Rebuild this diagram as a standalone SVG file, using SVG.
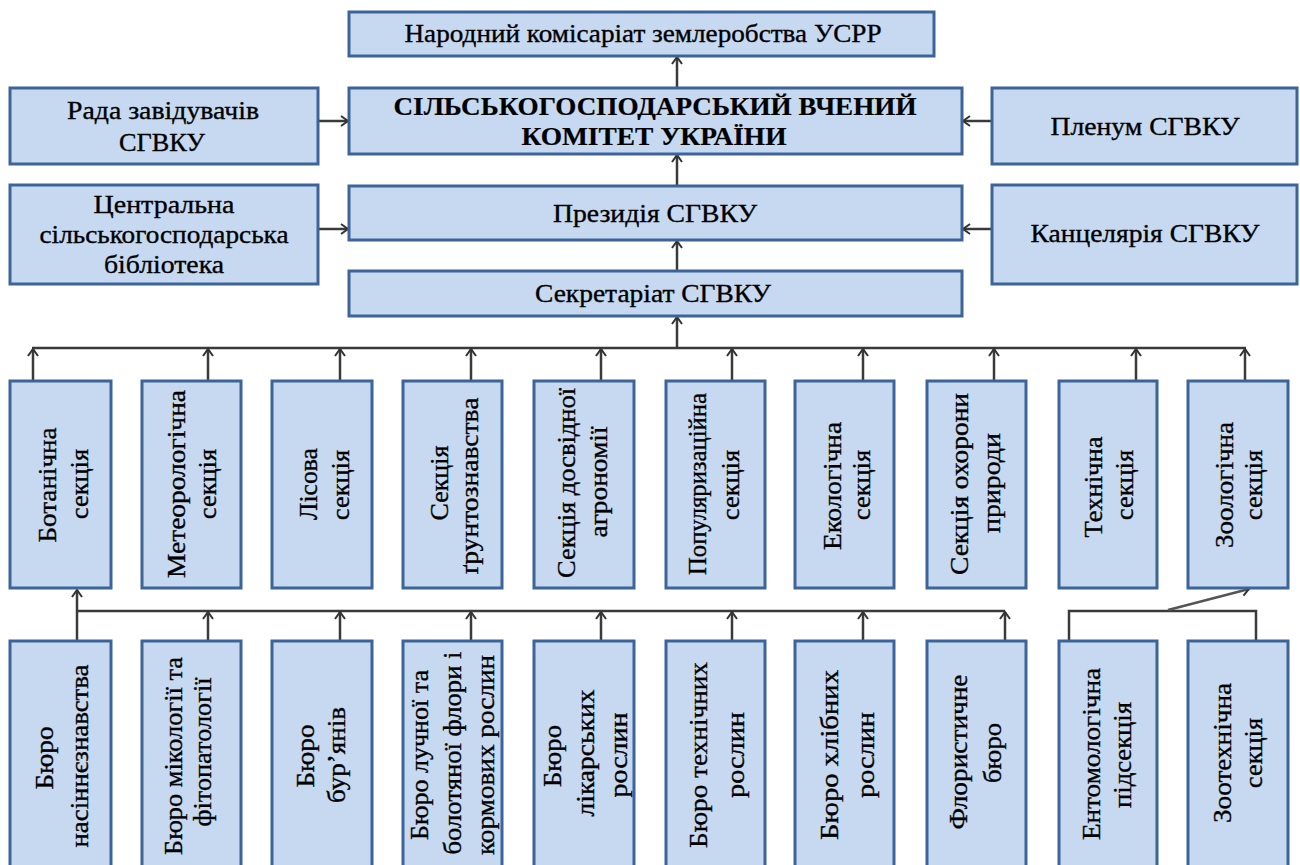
<svg xmlns="http://www.w3.org/2000/svg" width="1300" height="865" viewBox="0 0 1300 865">
<style>
.box{fill:#c6d9f1;stroke:#3d6499;stroke-width:3}
.t{font-family:"Liberation Serif","Times New Roman","DejaVu Serif",serif;font-size:26px;fill:#000;stroke:#000;stroke-width:0.35;text-anchor:middle}
.b{font-weight:bold;stroke-width:0.2}
.c{stroke:#3a3a3a;stroke-width:2.5;fill:none}
.a{marker-end:url(#arr)}
.g{stroke:#555}
</style>
<defs>
<marker id="arr" markerUnits="userSpaceOnUse" markerWidth="14" markerHeight="14" viewBox="-8 -7 10 14" refX="0" refY="0" orient="auto">
<path d="M-7,-5 L0,0 L-7,5" fill="none" stroke="#333" stroke-width="2"/>
</marker>
</defs>
<rect width="1300" height="865" fill="#fff"/>

<g id="connectors">
<line class="c a" x1="677" y1="88" x2="677" y2="57"/>
<line class="c a" x1="677" y1="186" x2="677" y2="155"/>
<line class="c a" x1="677" y1="271" x2="677" y2="241"/>
<line class="c a" x1="677" y1="348" x2="677" y2="317"/>
<line class="c a" x1="318" y1="121" x2="348" y2="121"/>
<line class="c a" x1="318" y1="229" x2="348" y2="229"/>
<line class="c a" x1="992" y1="121" x2="963" y2="121"/>
<line class="c a" x1="992" y1="229" x2="963" y2="229"/>
<line class="c" x1="32" y1="348" x2="1246" y2="348"/>
<line class="c a" x1="33" y1="381" x2="33" y2="349"/>
<line class="c a" x1="208" y1="381" x2="208" y2="349"/>
<line class="c a" x1="340" y1="381" x2="340" y2="349"/>
<line class="c a" x1="471" y1="381" x2="471" y2="349"/>
<line class="c a" x1="601" y1="381" x2="601" y2="349"/>
<line class="c a" x1="732" y1="381" x2="732" y2="349"/>
<line class="c a" x1="863" y1="381" x2="863" y2="349"/>
<line class="c a" x1="994" y1="381" x2="994" y2="349"/>
<line class="c a" x1="1136" y1="381" x2="1136" y2="349"/>
<line class="c a" x1="1245" y1="381" x2="1245" y2="349"/>
<line class="c" x1="77" y1="611" x2="1005" y2="611"/>
<line class="c a" x1="77" y1="641" x2="77" y2="590"/>
<line class="c a" x1="208" y1="641" x2="208" y2="612"/>
<line class="c a" x1="340" y1="641" x2="340" y2="612"/>
<line class="c a" x1="471" y1="641" x2="471" y2="612"/>
<line class="c a" x1="601" y1="641" x2="601" y2="612"/>
<line class="c a" x1="732" y1="641" x2="732" y2="612"/>
<line class="c a" x1="863" y1="641" x2="863" y2="612"/>
<line class="c a" x1="1005" y1="641" x2="1005" y2="612"/>
<polyline class="c" points="1069,641 1069,611 1256,611 1256,641"/>
<line class="c a g" x1="1168" y1="610" x2="1249" y2="589"/>
</g>

<g id="n-top"><rect class="box" x="349" y="12" width="585" height="44"/>
<text class="t" x="643" y="42" textLength="477" lengthAdjust="spacingAndGlyphs">Народний комісаріат землеробства УСРР</text></g>

<g id="n-main"><rect class="box" x="349" y="88" width="613" height="66"/>
<text class="t b" x="655" y="115" textLength="523" lengthAdjust="spacingAndGlyphs">СІЛЬСЬКОГОСПОДАРСЬКИЙ ВЧЕНИЙ</text>
<text class="t b" x="654" y="145" textLength="265" lengthAdjust="spacingAndGlyphs">КОМІТЕТ УКРАЇНИ</text></g>

<g id="n-rada"><rect class="box" x="10" y="88" width="308" height="76"/>
<text class="t" x="163" y="119" textLength="192" lengthAdjust="spacingAndGlyphs">Рада завідувачів</text>
<text class="t" x="162" y="151" textLength="86" lengthAdjust="spacingAndGlyphs">СГВКУ</text></g>

<g id="n-plenum"><rect class="box" x="992" y="88" width="305" height="76"/>
<text class="t" x="1145" y="135" textLength="189" lengthAdjust="spacingAndGlyphs">Пленум СГВКУ</text></g>

<g id="n-library"><rect class="box" x="10" y="185" width="308" height="99"/>
<text class="t" x="164" y="213" textLength="141" lengthAdjust="spacingAndGlyphs">Центральна</text>
<text class="t" x="164" y="243" textLength="249" lengthAdjust="spacingAndGlyphs">сільськогосподарська</text>
<text class="t" x="164" y="273" textLength="120" lengthAdjust="spacingAndGlyphs">бібліотека</text></g>

<g id="n-presidium"><rect class="box" x="349" y="186" width="613" height="54"/>
<text class="t" x="655" y="222" textLength="204" lengthAdjust="spacingAndGlyphs">Президія СГВКУ</text></g>

<g id="n-chancellery"><rect class="box" x="992" y="185" width="305" height="99"/>
<text class="t" x="1145" y="242" textLength="229" lengthAdjust="spacingAndGlyphs">Канцелярія СГВКУ</text></g>

<g id="n-secretariat"><rect class="box" x="349" y="271" width="613" height="45"/>
<text class="t" x="653" y="302" textLength="236" lengthAdjust="spacingAndGlyphs">Секретаріат СГВКУ</text></g>

<g id="s1"><rect class="box" x="10" y="381" width="101" height="207"/>
<text class="t" transform="translate(56,485) rotate(-90)" textLength="115" lengthAdjust="spacingAndGlyphs">Ботанічна</text>
<text class="t" transform="translate(88,484) rotate(-90)" textLength="70" lengthAdjust="spacingAndGlyphs">секція</text></g>
<g id="s2"><rect class="box" x="142" y="381" width="99" height="207"/>
<text class="t" transform="translate(185,484) rotate(-90)" textLength="188" lengthAdjust="spacingAndGlyphs">Метеорологічна</text>
<text class="t" transform="translate(216,484) rotate(-90)" textLength="70" lengthAdjust="spacingAndGlyphs">секція</text></g>
<g id="s3"><rect class="box" x="272" y="381" width="100" height="207"/>
<text class="t" transform="translate(317,484) rotate(-90)" textLength="72" lengthAdjust="spacingAndGlyphs">Лісова</text>
<text class="t" transform="translate(349,485) rotate(-90)" textLength="70" lengthAdjust="spacingAndGlyphs">секція</text></g>
<g id="s4"><rect class="box" x="403" y="381" width="99" height="207"/>
<text class="t" transform="translate(448,483) rotate(-90)" textLength="75" lengthAdjust="spacingAndGlyphs">Секція</text>
<text class="t" transform="translate(478,486) rotate(-90)" textLength="177" lengthAdjust="spacingAndGlyphs">ґрунтознавства</text></g>
<g id="s5"><rect class="box" x="534" y="381" width="100" height="207"/>
<text class="t" transform="translate(575,483) rotate(-90)" textLength="190" lengthAdjust="spacingAndGlyphs">Секція досвідної</text>
<text class="t" transform="translate(607,482) rotate(-90)" textLength="111" lengthAdjust="spacingAndGlyphs">агрономії</text></g>
<g id="s6"><rect class="box" x="666" y="381" width="99" height="207"/>
<text class="t" transform="translate(706,484) rotate(-90)" textLength="182" lengthAdjust="spacingAndGlyphs">Популяризаційна</text>
<text class="t" transform="translate(739,485) rotate(-90)" textLength="70" lengthAdjust="spacingAndGlyphs">секція</text></g>
<g id="s7"><rect class="box" x="795" y="381" width="99" height="207"/>
<text class="t" transform="translate(841,486) rotate(-90)" textLength="128" lengthAdjust="spacingAndGlyphs">Екологічна</text>
<text class="t" transform="translate(870,485) rotate(-90)" textLength="70" lengthAdjust="spacingAndGlyphs">секція</text></g>
<g id="s8"><rect class="box" x="927" y="381" width="99" height="207"/>
<text class="t" transform="translate(968,484) rotate(-90)" textLength="182" lengthAdjust="spacingAndGlyphs">Секція охорони</text>
<text class="t" transform="translate(1000,483) rotate(-90)" textLength="100" lengthAdjust="spacingAndGlyphs">природи</text></g>
<g id="s9"><rect class="box" x="1059" y="381" width="98" height="207"/>
<text class="t" transform="translate(1102,487) rotate(-90)" textLength="101" lengthAdjust="spacingAndGlyphs">Технічна</text>
<text class="t" transform="translate(1133,485) rotate(-90)" textLength="70" lengthAdjust="spacingAndGlyphs">секція</text></g>
<g id="s10"><rect class="box" x="1188" y="381" width="100" height="207"/>
<text class="t" transform="translate(1233,485) rotate(-90)" textLength="126" lengthAdjust="spacingAndGlyphs">Зоологічна</text>
<text class="t" transform="translate(1262,485) rotate(-90)" textLength="70" lengthAdjust="spacingAndGlyphs">секція</text></g>

<g id="b1"><rect class="box" x="10" y="641" width="101" height="230"/>
<text class="t" transform="translate(53,758) rotate(-90)" textLength="63" lengthAdjust="spacingAndGlyphs">Бюро</text>
<text class="t" transform="translate(88,756) rotate(-90)" textLength="183" lengthAdjust="spacingAndGlyphs">насіннєзнавства</text></g>
<g id="b2"><rect class="box" x="142" y="641" width="99" height="230"/>
<text class="t" transform="translate(182,756) rotate(-90)" textLength="198" lengthAdjust="spacingAndGlyphs">Бюро мікології та</text>
<text class="t" transform="translate(211,752) rotate(-90)" textLength="149" lengthAdjust="spacingAndGlyphs">фітопатології</text></g>
<g id="b3"><rect class="box" x="272" y="641" width="100" height="230"/>
<text class="t" transform="translate(314,756) rotate(-90)" textLength="63" lengthAdjust="spacingAndGlyphs">Бюро</text>
<text class="t" transform="translate(345,755) rotate(-90)" textLength="96" lengthAdjust="spacingAndGlyphs">бур’янів</text></g>
<g id="b4"><rect class="box" x="403" y="641" width="99" height="230"/>
<text class="t" transform="translate(428,755) rotate(-90)" textLength="170" lengthAdjust="spacingAndGlyphs">Бюро лучної та</text>
<text class="t" transform="translate(461,753) rotate(-90)" textLength="203" lengthAdjust="spacingAndGlyphs">болотяної флори і</text>
<text class="t" transform="translate(494,755) rotate(-90)" textLength="200" lengthAdjust="spacingAndGlyphs">кормових рослин</text></g>
<g id="b5"><rect class="box" x="534" y="641" width="100" height="230"/>
<text class="t" transform="translate(561,756) rotate(-90)" textLength="62" lengthAdjust="spacingAndGlyphs">Бюро</text>
<text class="t" transform="translate(594,753) rotate(-90)" textLength="127" lengthAdjust="spacingAndGlyphs">лікарських</text>
<text class="t" transform="translate(627,755) rotate(-90)" textLength="85" lengthAdjust="spacingAndGlyphs">рослин</text></g>
<g id="b6"><rect class="box" x="666" y="641" width="99" height="230"/>
<text class="t" transform="translate(707,755) rotate(-90)" textLength="186" lengthAdjust="spacingAndGlyphs">Бюро технічних</text>
<text class="t" transform="translate(744,755) rotate(-90)" textLength="86" lengthAdjust="spacingAndGlyphs">рослин</text></g>
<g id="b7"><rect class="box" x="795" y="641" width="99" height="230"/>
<text class="t" transform="translate(838,755) rotate(-90)" textLength="170" lengthAdjust="spacingAndGlyphs">Бюро хлібних</text>
<text class="t" transform="translate(874,755) rotate(-90)" textLength="86" lengthAdjust="spacingAndGlyphs">рослин</text></g>
<g id="b8"><rect class="box" x="927" y="641" width="99" height="230"/>
<text class="t" transform="translate(967,752) rotate(-90)" textLength="155" lengthAdjust="spacingAndGlyphs">Флористичне</text>
<text class="t" transform="translate(1001,753) rotate(-90)" textLength="60" lengthAdjust="spacingAndGlyphs">бюро</text></g>
<g id="b9"><rect class="box" x="1059" y="641" width="98" height="230"/>
<text class="t" transform="translate(1100,754) rotate(-90)" textLength="172" lengthAdjust="spacingAndGlyphs">Ентомологічна</text>
<text class="t" transform="translate(1131,755) rotate(-90)" textLength="106" lengthAdjust="spacingAndGlyphs">підсекція</text></g>
<g id="b10"><rect class="box" x="1188" y="641" width="100" height="230"/>
<text class="t" transform="translate(1231,753) rotate(-90)" textLength="140" lengthAdjust="spacingAndGlyphs">Зоотехнічна</text>
<text class="t" transform="translate(1262,753) rotate(-90)" textLength="70" lengthAdjust="spacingAndGlyphs">секція</text></g>
</svg>
